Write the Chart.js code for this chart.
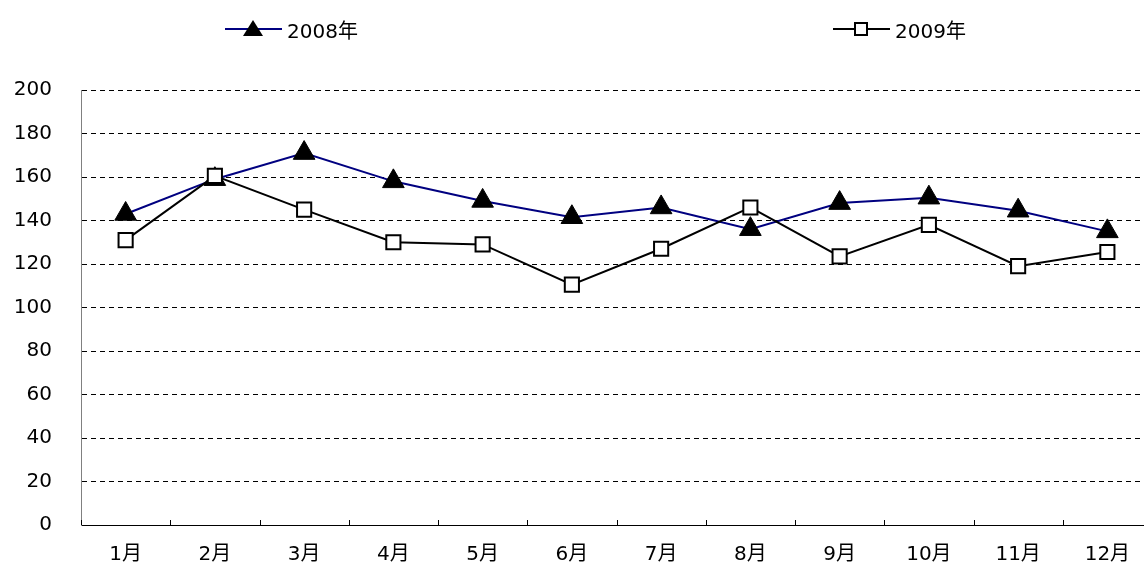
<!DOCTYPE html>
<html>
<head>
<meta charset="utf-8">
<script src="https://cdn.jsdelivr.net/npm/chart.js@4/dist/chart.umd.min.js"></script>
<style>
  html, body { margin: 0; padding: 0; background: #fff; overflow: hidden; }
  #wrap { position: relative; width: 1144px; height: 568px; overflow: hidden; }
  #c { position: absolute; left: 0; top: 0; }
  .leg { position: absolute; top: 17px; height: 24px; display: flex; align-items: center;
         font-family: "DejaVu Sans", "Noto Sans CJK SC", sans-serif; font-size: 20px; color: #000; }
  .leg svg { display: block; margin-right: 5px; }
</style>
</head>
<body>
<div id="wrap">
  <canvas id="c" width="1152" height="568"></canvas>
  <div class="leg" style="left:225px;">
    <svg width="57" height="24"><line x1="0" y1="12" x2="57" y2="12" stroke="#000080" stroke-width="2"/><polygon points="28,3 38,19 18,19" fill="#000"/></svg>
    <span id="l1"></span>
  </div>
  <div class="leg" style="left:833px;">
    <svg width="57" height="24"><line x1="0" y1="12" x2="57" y2="12" stroke="#000" stroke-width="2"/><rect x="22" y="6" width="12" height="12" fill="#fff" stroke="#000" stroke-width="2"/></svg>
    <span id="l2"></span>
  </div>
</div>
<script>
const categories = ['1月','2月','3月','4月','5月','6月','7月','8月','9月','10月','11月','12月'];
const seriesNames = ['2008年', '2009年'];
const values2008 = [143, 159, 171, 158, 149, 141.5, 146, 136, 148, 150.5, 144.5, 135];
const values2009 = [131, 160.5, 145, 130, 129, 110.5, 127, 146, 123.5, 138, 119, 125.5];
const yTicks = [0, 20, 40, 60, 80, 100, 120, 140, 160, 180, 200];

document.getElementById('l1').textContent = seriesNames[0];
document.getElementById('l2').textContent = seriesNames[1];

const FONT = { family: '"DejaVu Sans", "Noto Sans CJK SC", sans-serif', size: 20 };

const innerTicks = {
  id: 'innerTicks',
  afterDraw(chart) {
    const xs = chart.scales.x;
    const ctx = chart.ctx;
    const bottom = chart.chartArea.bottom;
    const half = (xs.getPixelForValue(1) - xs.getPixelForValue(0)) / 2;
    ctx.save();
    ctx.strokeStyle = '#000';
    ctx.lineWidth = 1;
    ctx.beginPath();
    for (let i = 0; i <= categories.length; i++) {
      const px = Math.round(xs.getPixelForValue(i) - half) + 0.5;
      ctx.moveTo(px, bottom);
      ctx.lineTo(px, bottom - 5);
    }
    ctx.stroke();
    ctx.restore();
  }
};

new Chart(document.getElementById('c'), {
  type: 'line',
  data: {
    labels: categories,
    datasets: [
      {
        label: seriesNames[0],
        data: values2008,
        order: 2,
        borderColor: '#000080',
        borderWidth: 2,
        tension: 0,
        clip: false,
        pointStyle: 'triangle',
        pointRadius: 12.5,
        pointBackgroundColor: '#000',
        pointBorderColor: '#000',
        pointBorderWidth: 1
      },
      {
        label: seriesNames[1],
        data: values2009,
        order: 1,
        borderColor: '#000',
        borderWidth: 2,
        tension: 0,
        clip: false,
        pointStyle: 'rect',
        pointRadius: 10,
        pointBackgroundColor: '#fff',
        pointBorderColor: '#000',
        pointBorderWidth: 2
      }
    ]
  },
  options: {
    responsive: false,
    animation: false,
    devicePixelRatio: 1,
    layout: { autoPadding: false, padding: { left: 0, right: 0, top: 90, bottom: 0 } },
    plugins: { legend: { display: false }, tooltip: { enabled: false } },
    scales: {
      x: {
        offset: true,
        grid: { display: false, drawTicks: false },
        border: { display: true, color: '#000', width: 1 },
        ticks: { color: '#000', font: FONT, padding: 18, maxRotation: 0, autoSkip: false },
        afterFit(scale) { scale.height = 43; scale.paddingLeft = 0; scale.paddingRight = 0; }
      },
      y: {
        min: 0,
        max: 200,
        afterBuildTicks(scale) { scale.ticks = yTicks.map(v => ({ value: v })); },
        grid: { color: '#000', lineWidth: 1, drawTicks: false },
        border: { display: true, color: '#808080', width: 1, dash: [5, 4] },
        ticks: { color: '#000', font: FONT, padding: 29 },
        afterFit(scale) { scale.width = 81; }
      }
    }
  },
  plugins: [innerTicks]
});
</script>
</body>
</html>
